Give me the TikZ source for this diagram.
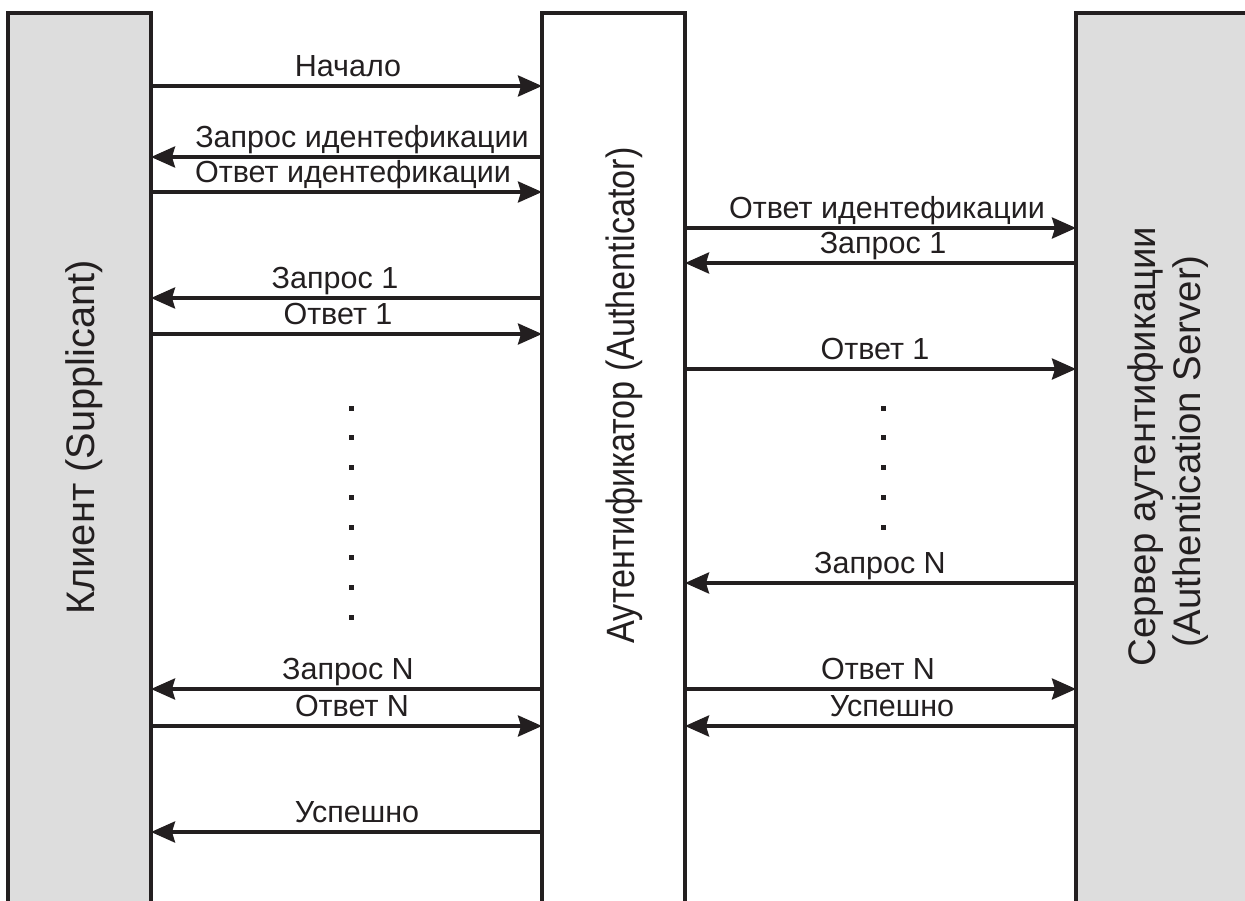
\documentclass[tikz,border=0pt]{standalone}
\usepackage{fontspec}
\setmainfont{Liberation Sans}
\usetikzlibrary{arrows.meta}
\definecolor{ink}{HTML}{231F20}
\definecolor{barfill}{HTML}{DDDDDD}
\begin{document}
\begin{tikzpicture}[x=1pt,y=-1pt,
  bar/.style={draw=ink, line width=3.5pt, minimum height=940pt, inner sep=0pt, outer sep=0pt, anchor=north west},
  arr/.style={draw=ink, line width=3.5pt, -{Stealth[length=24pt,width=21pt,inset=3pt]}},
  lbl/.style={anchor=base, inner sep=0pt, text=ink, font=\fontsize{30.5}{36}\selectfont},
  vlbl/.style={anchor=base, inner sep=0pt, text=ink, rotate=90, font=\fontsize{38.4}{44}\selectfont},
  dot/.style={fill=ink}]
\useasboundingbox (0,0) rectangle (1245,900);
% lifelines
\node[bar, fill=barfill, minimum width=143pt] (cl) at (8,13) {};
\node[bar, fill=white, minimum width=143pt] (au) at (542,13) {};
\node[bar, fill=barfill, minimum width=250pt] (as) at (1076,13) {};
% lifeline titles
\node[vlbl, font=\fontsize{39.8}{46}\selectfont] (tcl) at (94,437.5) {Клиент (Supplicant)};
\node[vlbl, font=\fontsize{39.5}{46}\selectfont] (tau) at (634,395.5) {\scalebox{0.866}[1]{Аутентификатор (Authenticator)}};
\node[vlbl] (tas1) at (1155,446.5) {Сервер аутентификации};
\node[vlbl] (tas2) at (1200,451.5) {(Authentication Server)};
% messages client <-> authenticator
\draw[arr] (cl.east |- 0,86) -- (au.west |- 0,86);
\node[lbl] (m1) at (348,76) {Начало};
\draw[arr] (au.west |- 0,157) -- (cl.east |- 0,157);
\node[lbl] (m2) at (362,147) {Запрос идентефикации};
\draw[arr] (cl.east |- 0,192) -- (au.west |- 0,192);
\node[lbl] (m3) at (353,182) {Ответ идентефикации};
\draw[arr] (au.west |- 0,298) -- (cl.east |- 0,298);
\node[lbl] (m6) at (335,288) {Запрос 1};
\draw[arr] (cl.east |- 0,334) -- (au.west |- 0,334);
\node[lbl] (m7) at (338,324) {Ответ 1};
\draw[arr] (au.west |- 0,689) -- (cl.east |- 0,689);
\node[lbl] (m10) at (348,679) {Запрос N};
\draw[arr] (cl.east |- 0,726) -- (au.west |- 0,726);
\node[lbl] (m12) at (352,716) {Ответ N};
\draw[arr] (au.west |- 0,832) -- (cl.east |- 0,832);
\node[lbl] (m14) at (357,822) {Успешно};
% messages authenticator <-> server
\draw[arr] (au.east |- 0,228) -- (as.west |- 0,228);
\node[lbl] (m4) at (887,218) {Ответ идентефикации};
\draw[arr] (as.west |- 0,263) -- (au.east |- 0,263);
\node[lbl] (m5) at (883,253) {Запрос 1};
\draw[arr] (au.east |- 0,369) -- (as.west |- 0,369);
\node[lbl] (m8) at (875,359) {Ответ 1};
\draw[arr] (as.west |- 0,583) -- (au.east |- 0,583);
\node[lbl] (m9) at (880,573) {Запрос N};
\draw[arr] (au.east |- 0,689) -- (as.west |- 0,689);
\node[lbl] (m11) at (878,679) {Ответ N};
\draw[arr] (as.west |- 0,726) -- (au.east |- 0,726);
\node[lbl] (m13) at (892,716) {Успешно};
% ellipsis dots
\foreach \k in {0,...,7} \fill[dot] (348.5,405.5+29.9*\k) rectangle ++(5,5);
\foreach \k in {0,...,4} \fill[dot] (880.5,405.5+29.9*\k) rectangle ++(5,5);
\end{tikzpicture}
\end{document}
